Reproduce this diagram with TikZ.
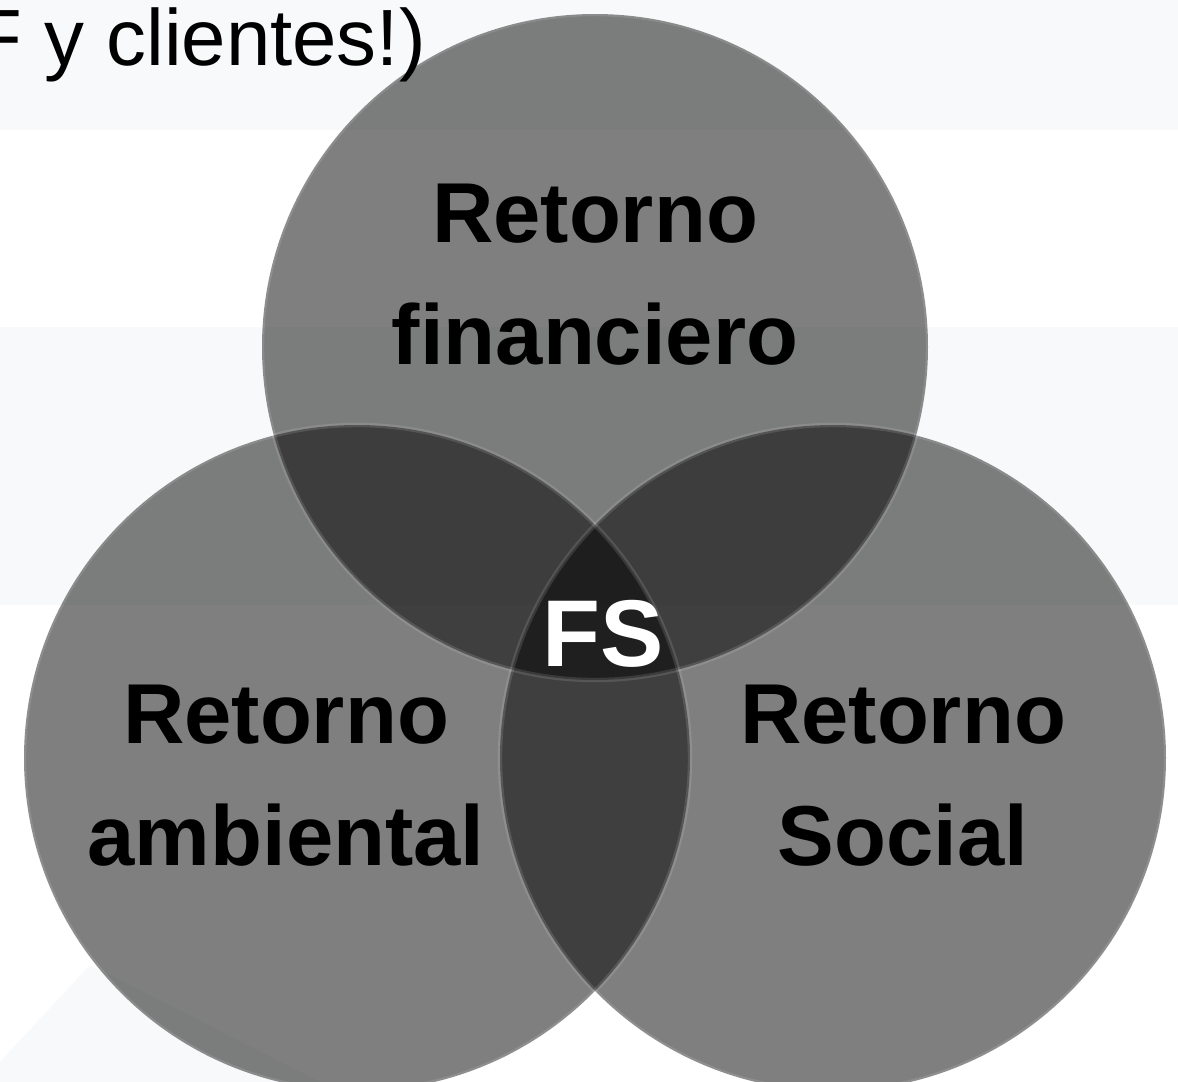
\documentclass[tikz,border=0pt]{standalone}
\usepackage{fontspec}
\setmainfont{Liberation Sans}
\usepackage{tikz}
\usetikzlibrary{positioning}

\definecolor{bandgray}{RGB}{248,249,250}

\tikzset{
    ring/.style={fill=black, fill opacity=0.5},
    rim/.style={draw=white, draw opacity=0.12, line width=2.5pt},
    label/.style={align=center, inner sep=0pt, font=\bfseries\fontsize{48.4pt}{69.4pt}\selectfont}
}

\begin{document}
\begin{tikzpicture}[x=0.02cm, y=-0.02cm]
    \useasboundingbox (0, 0) rectangle (1178, 1082);
    \fill [white] (0, 0) rectangle (1178, 1082);

    % background stripes
    \fill [bandgray] (0, 0) rectangle (1178, 130);
    \fill [bandgray] (0, 327) rectangle (1178, 605);
    \fill [bandgray] (0, 1082) -- (0, 1062) -- (90, 965) -- (320, 1082) -- cycle;

    \coordinate (cfin) at (595, 347);
    \coordinate (camb) at (357, 758);
    \coordinate (csoc) at (833, 758);

    \fill [ring] (cfin) circle [radius=333];
    \fill [ring] (camb) circle [radius=333];
    \fill [ring] (csoc) circle [radius=333];
    \draw [rim] (cfin) circle [radius=333];
    \draw [rim] (camb) circle [radius=333];
    \draw [rim] (csoc) circle [radius=333];

    \node [anchor=base east, inner sep=0pt, font=\fontsize{45.4pt}{54pt}\selectfont] (top) at (426, 65) {F y clientes!)};

    \node [label] (fin) at (595, 275) {Retorno\\financiero};
    \node [label] (amb) at (286, 776) {Retorno\\ambiental};
    \node [label] (soc) at (903, 776) {Retorno\\Social};
    \node [label, text=white, font=\bfseries\fontsize{54pt}{60pt}\selectfont] (fs) at (603, 634) {FS};
\end{tikzpicture}
\end{document}
